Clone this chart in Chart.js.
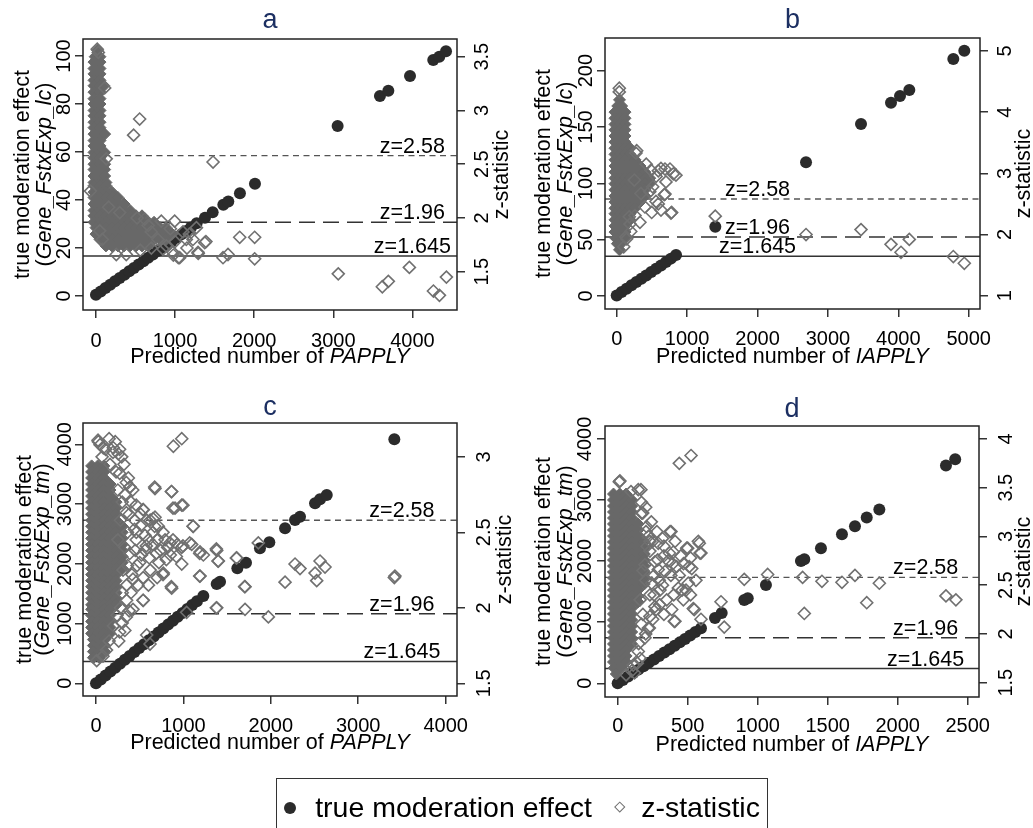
<!DOCTYPE html>
<html>
<head>
<meta charset="utf-8">
<script src="https://cdn.jsdelivr.net/npm/chart.js@4.4.1/dist/chart.umd.min.js"></script>
<style>
body{margin:0;background:#fff;width:1033px;height:828px;position:relative;overflow:hidden;font-family:"Liberation Sans",Arial,sans-serif}
canvas{position:absolute}
#legend{position:absolute;left:276px;top:778px;width:492px;height:80px;border:1.5px solid #333;box-sizing:border-box}
#legend .dot{position:absolute;left:7px;top:22.5px;width:12px;height:12px;border-radius:50%;background:#2b2b2b}
#legend .dia{position:absolute;left:339px;top:24px;width:7.5px;height:7.5px;border:1.5px solid #707070;box-sizing:border-box;transform:rotate(45deg)}
#legend .txt{position:absolute;top:14.4px;font-size:28.5px;line-height:28.5px;color:#000;white-space:nowrap}
</style>
</head>
<body>
<canvas id="pa" width="516" height="380" style="left:0;top:0"></canvas>
<canvas id="pb" width="517" height="380" style="left:516px;top:0"></canvas>
<canvas id="pc" width="516" height="400" style="left:0;top:380px"></canvas>
<canvas id="pd" width="517" height="400" style="left:516px;top:380px"></canvas>
<div id="legend">
  <div class="dot"></div><div class="txt" style="left:38.2px">true moderation effect</div>
  <div class="dia"></div><div class="txt" style="left:364.2px">z-statistic</div>
</div>
<script>
// reference lines for the z-statistic
const refZ = [2.58, 1.96, 1.645];
const refLabels = ['z=2.58', 'z=1.96', 'z=1.645'];

// ticks
const xTicksA = [0, 1000, 2000, 3000, 4000], yTicksA = [0, 20, 40, 60, 80, 100], zTicksA = [1.5, 2, 2.5, 3, 3.5];
const xTicksB = [0, 1000, 2000, 3000, 4000, 5000], yTicksB = [0, 50, 100, 150, 200], zTicksB = [1, 2, 3, 4, 5];
const xTicksC = [0, 1000, 2000, 3000, 4000], yTicksC = [0, 1000, 2000, 3000, 4000], zTicksC = [1.5, 2, 2.5, 3];
const xTicksD = [0, 500, 1000, 1500, 2000, 2500], yTicksD = [0, 1000, 2000, 3000, 4000], zTicksD = [1.5, 2, 2.5, 3, 3.5, 4];

// panel a : true moderation effect [x, effect]
const effA = [[0,0.5],[60,1.9],[120,3.3],[180,4.7],[240,6.1],[300,7.5],[360,8.9],[420,10.3],[480,11.7],[540,13.1],[600,14.5],[660,15.9],[720,17.3],[780,18.7],[840,20.1],[900,21.5],[960,22.9],[1020,24.3],[1080,25.7],[1140,27.1],[1200,28.5],[1273,30.3],[1378,32.6],[1475,34.9],[1610,38.0],[1673,39.4],[1820,42.8],[2010,46.8],[3055,70.8],[3590,83.3],[3696,85.5],[3970,91.7],[4264,98.3],[4340,99.7],[4425,102.0]];
// panel a : z-statistic, dense rows [z, x...] and single points [x, z]
const coreA = [[3.56,20],[3.50,-10,50],[3.45,-25,51],[3.39,-25,51],[3.34,-25,51],[3.28,-25,51],[3.23,-25,51,100],[3.17,-25,51],[3.11,-25,51],[3.06,-25,51],[3.00,-25,51],[2.95,-25,51],[2.89,-25,51],[2.84,-25,51],[2.78,-25,51,110],[2.72,-25,51],[2.67,-25,51],[2.61,-25,51,110],[2.56,-25,51],[2.50,-25,51,110],[2.45,-25,51,110],[2.39,-25,51,110],[2.33,-25,51,126],[2.30,-25,51,126],[2.24,-25,51,126,202],[2.19,-25,51,126,202,278],[2.13,-25,51,126,202,278,354],[2.07,-25,51,126,202,278,354,430],[2.02,-25,51,126,202,278,354,430,506,582],[1.96,-25,51,126,202,278,354,430,506,582,658,734],[1.91,0,51,126,202,278,354,430,506,582,658,734,810,886],[1.85,0,51,126,202,278,354,430,506,582,658,734,810,886,962],[1.80,51,126,202,278,354,430,506,582,658,734,810,886],[1.74,126,202,278,354,430,506,582,658]];
const zA = [[16,3.57],[30,3.54],[110,3.21],[552,2.92],[476,2.77],[1480,2.52],[47,1.88],[80,1.80],[257,1.66],[383,1.66],[616,1.99],[826,1.97],[995,1.97],[973,1.68],[1058,1.63],[1270,1.91],[1375,1.77],[1290,1.68],[1606,1.63],[1669,1.66],[1817,1.82],[2006,1.82],[2006,1.62],[1100,1.87],[1142,1.80],[784,1.80],[889,1.74],[700,1.87],[1226,1.80],[847,1.71],[1041,1.63],[978,1.655],[1390,1.78],[1293,1.67],[130,2.55],[-70,2.25],[160,2.10],[300,2.05],[520,2.00],[660,1.93],[940,1.90],[1180,1.85],[1000,1.78],[1150,1.72],[700,1.72],[560,1.70],[3063,1.48],[3620,1.36],[3696,1.41],[3962,1.54],[4266,1.32],[4342,1.28],[4430,1.45]];

// panel b
const effB = [[0,0.5],[70,3.5],[140,6.5],[210,9.5],[280,12.4],[350,15.4],[420,18.3],[490,21.3],[560,24.3],[630,27.2],[700,30.2],[770,33.2],[843,36.4],[1401,61.5],[2689,118.7],[3470,152.7],[3896,171.6],[4024,177.5],[4156,182.8],[4781,210.3],[4937,217.7]];
const coreB = [[4.20,40],[4.10,15,70],[4.00,-24,47,118],[3.90,-24,47,118],[3.80,-24,47,118],[3.71,-24,47,118],[3.61,-24,47,118],[3.51,-24,47,118],[3.41,-24,47,118,190],[3.31,-24,47,118,190],[3.22,-24,47,118,190,260],[3.12,-24,47,118,190,260,330],[3.02,-24,47,118,190,260,330,400],[2.92,-24,47,118,190,260,330,400,470],[2.83,-24,47,118,190,260,330,400,470],[2.73,-24,47,118,190,260,330,400],[2.63,-24,47,118,190,260,330,400],[2.53,-24,47,118,190,260,330],[2.43,-24,47,118,190,260],[2.34,-24,47,118,190],[2.24,-24,47,118,190],[2.14,-24,47,118],[2.04,-24,47,118],[1.94,-10,60,120],[1.85,10,60],[1.75,40]];
const zB = [[37,4.39],[37,4.33],[487,3.05],[629,3.08],[757,3.07],[842,2.97],[700,2.86],[676,2.65],[511,2.78],[558,2.54],[629,2.40],[771,2.35],[274,3.33],[250,2.89],[345,2.67],[179,2.29],[132,1.96],[804,2.99],[686,3.07],[591,3.04],[686,2.66],[781,2.36],[591,2.50],[497,2.36],[260,2.31],[142,1.93],[189,2.17],[284,3.37],[420,3.15],[560,2.95],[470,2.70],[400,2.45],[330,2.20],[200,2.05],[100,1.80],[1400,2.30],[2689,2.00],[3470,2.08],[3896,1.84],[4038,1.71],[4156,1.92],[4781,1.64],[4937,1.53]];

// panel c
const effC = [[0,0],[55,65],[110,131],[165,196],[220,262],[275,327],[330,393],[385,458],[440,524],[495,589],[550,655],[605,720],[660,785],[715,851],[770,916],[825,982],[880,1047],[935,1113],[990,1178],[1045,1244],[1100,1309],[1155,1375],[1228,1461],[1381,1662],[1419,1700],[1617,1925],[1716,2018],[1876,2259],[1983,2360],[2163,2594],[2277,2733],[2334,2788],[2506,3012],[2563,3079],[2640,3151],[3413,4083]];
const coreC = [[2.94,-50,20,90],[2.90,-50,20,90],[2.86,-50,20,90],[2.82,-50,20,90,160],[2.78,-50,20,90,160],[2.74,-50,20,90,160],[2.70,-50,20,90,160,230],[2.66,-50,20,90,160,230],[2.62,-50,20,90,160,230],[2.58,-50,20,90,160,230],[2.54,-50,20,90,160,230,300],[2.50,-50,20,90,160,230,300],[2.46,-50,20,90,160,230,300],[2.42,-50,20,90,160,230,300],[2.38,-50,20,90,160,230,300],[2.34,-50,20,90,160,230,300],[2.30,-50,20,90,160,230,300],[2.26,-50,20,90,160,230,300],[2.22,-50,20,90,160,230],[2.18,-50,20,90,160,230],[2.14,-50,20,90,160,230],[2.10,-50,20,90,160,230],[2.06,-50,20,90,160,230],[2.02,-50,20,90,160,230],[1.99,-50,20,90,160],[1.95,-50,20,90,160],[1.91,-50,20,90,160],[1.87,-50,20,90,160],[1.83,-50,20,90,160],[1.79,-30,40,100],[1.75,-30,40,100],[1.71,-30,40,100],[1.67,-30,40]];
const zC = [[27,3.10],[46,3.08],[84,3.06],[198,3.06],[255,3.02],[294,3.00],[885,3.07],[981,3.12],[675,2.79],[866,2.77],[904,2.66],[981,2.68],[1113,2.54],[370,2.86],[389,2.80],[541,2.65],[675,2.60],[713,2.54],[847,2.43],[981,2.40],[1095,2.42],[1190,2.37],[1228,2.35],[1381,2.38],[1400,2.31],[981,2.29],[770,2.23],[1190,2.21],[866,2.13],[541,2.05],[1381,2.00],[1610,2.33],[1705,2.14],[1705,1.99],[1857,2.43],[1972,1.94],[2163,2.17],[2277,2.29],[2334,2.26],[2506,2.23],[2525,2.18],[2563,2.31],[2620,2.27],[3413,2.20],[3420,2.21],[1037,1.97],[580,1.82],[618,1.76],[8,1.65],[671,2.80],[862,2.77],[881,2.66],[995,2.68],[538,2.65],[652,2.59],[671,2.54],[767,2.50],[881,2.45],[995,2.41],[1110,2.54],[443,2.58],[461,2.50],[576,2.41],[690,2.36],[805,2.32],[919,2.34],[1072,2.43],[1186,2.36],[767,2.22],[862,2.14],[538,2.05],[347,1.94],[271,1.84],[423,1.99],[423,2.19],[309,2.25],[500,2.30],[386,2.36],[347,2.63],[347,2.83],[271,2.89],[386,2.80],[195,3.03],[23,3.11],[1377,2.39],[1396,2.31],[1186,2.21],[1377,2.00],[1701,2.14],[1606,2.33],[400,2.70],[460,2.45],[520,2.35],[600,2.45],[620,2.25],[700,2.45],[480,2.15],[400,2.10],[350,2.05],[280,2.00],[330,2.40],[360,2.50],[450,2.38],[560,2.48],[620,2.58],[520,2.55],[300,2.70],[250,2.78],[230,2.90],[160,2.95],[240,1.95],[200,1.88],[150,1.78],[120,1.72],[80,1.68],[300,1.90],[360,2.28],[700,2.20],[820,2.40],[740,2.38],[330,2.75],[420,2.78],[460,2.68],[380,2.62],[440,2.52],[510,2.62],[580,2.58],[560,2.38],[610,2.33],[650,2.42],[720,2.30],[790,2.45],[850,2.35],[930,2.42],[650,2.50],[600,2.15],[540,2.20],[470,2.28],[410,2.22],[350,2.15],[300,2.10],[380,1.98],[330,1.85],[260,1.78],[250,2.45],[280,2.58],[320,2.95],[270,3.05],[220,3.10],[150,3.12],[110,3.05],[70,3.00]];

// panel d
const effD = [[0,0],[37,56],[74,112],[111,168],[148,224],[185,280],[222,335],[259,391],[296,447],[333,503],[370,559],[407,615],[444,670],[481,726],[518,782],[555,838],[595,900],[695,1069],[743,1150],[904,1363],[929,1391],[1059,1609],[1309,2002],[1333,2029],[1452,2209],[1602,2438],[1695,2569],[1779,2712],[1869,2843],[2345,3563],[2411,3666]];
const coreD = [[3.435,-30,15,60],[3.374,-30,15,60,100],[3.312,-30,15,60,100],[3.251,-30,15,60,100],[3.189,-30,15,60,100],[3.128,-30,15,60,100,145],[3.066,-30,15,60,100,145],[3.005,-30,15,60,100,145],[2.943,-30,15,60,100,145,190],[2.882,-30,15,60,100,145,190],[2.820,-30,15,60,100,145,190],[2.758,-30,15,60,100,145,190],[2.697,-30,15,60,100,145,190],[2.635,-30,15,60,100,145,190],[2.574,-30,15,60,100,145,190],[2.512,-30,15,60,100,145,190],[2.451,-30,15,60,100,145],[2.389,-30,15,60,100,145],[2.328,-30,15,60,100,145],[2.266,-30,15,60,100],[2.205,-30,15,60,100],[2.143,-30,15,60,100],[2.082,-30,15,60,100],[2.020,-30,15,60,100],[1.958,-30,15,60,100],[1.897,-30,15,60,100],[1.835,-30,15,60],[1.774,-30,15,60],[1.712,-30,15,60],[1.651,-25,25],[1.589,-10]];
const zD = [[11,3.56],[16,3.57],[440,3.75],[524,3.83],[95,3.46],[166,3.48],[147,3.48],[179,3.24],[171,3.24],[202,3.05],[207,3.10],[250,2.95],[381,3.05],[374,3.05],[369,2.83],[393,2.72],[286,2.76],[297,2.55],[274,2.25],[226,2.06],[500,2.88],[511,2.69],[583,2.93],[595,2.83],[559,2.55],[488,2.45],[547,2.25],[595,2.15],[404,2.13],[738,2.33],[761,2.07],[290,2.93],[397,2.84],[493,2.88],[588,2.83],[576,2.95],[266,2.74],[338,2.64],[421,2.69],[529,2.67],[504,2.52],[433,2.47],[302,2.45],[350,2.35],[469,2.35],[540,2.26],[409,2.13],[386,2.25],[266,2.28],[219,2.06],[195,1.96],[147,1.82],[111,1.68],[243,2.52],[195,2.71],[219,3.00],[230,2.85],[330,2.90],[260,2.60],[320,2.50],[230,2.40],[300,2.30],[250,2.15],[180,2.20],[150,1.90],[120,1.60],[60,1.58],[200,2.55],[440,2.60],[360,2.75],[170,3.35],[200,3.30],[240,3.15],[280,3.05],[230,2.95],[320,2.98],[410,2.95],[450,2.80],[520,2.78],[470,2.72],[330,2.80],[290,2.66],[380,2.60],[460,2.45],[520,2.40],[400,2.40],[330,2.20],[260,2.40],[230,2.18],[200,2.00],[170,2.10],[160,2.35],[180,2.65],[210,2.90],[160,1.75],[140,1.70],[100,1.62],[904,2.56],[1071,2.61],[1321,2.58],[1333,2.21],[1459,2.54],[1602,2.53],[1695,2.60],[1779,2.32],[1869,2.52],[2345,2.39],[2416,2.35]];

const FONT = '"Liberation Sans", Arial, sans-serif';
const tickFont = { family: FONT, size: 20 };
const mctx = document.createElement('canvas').getContext('2d');
mctx.font = '20px ' + FONT;
const widest = vals => Math.max(...vals.map(v => mctx.measureText(String(v)).width));

function richText(ctx, segs, x, y, rot) {
  const fonts = segs.map(s => (s[1] ? 'italic ' : '') + '21.5px ' + FONT);
  let w = 0;
  const ws = segs.map((s, i) => { ctx.font = fonts[i]; const m = ctx.measureText(s[0]).width; w += m; return m; });
  ctx.save();
  ctx.translate(x, y);
  ctx.rotate(rot);
  ctx.textAlign = 'left';
  ctx.textBaseline = 'middle';
  ctx.fillStyle = '#000';
  let cx = -w / 2;
  segs.forEach((s, i) => { ctx.font = fonts[i]; ctx.fillText(s[0], cx, 0); cx += ws[i]; });
  ctx.restore();
}

const panelText = {
  id: 'panelText',
  afterDraw(chart, args, o) {
    const { ctx, chartArea: a, scales } = chart;
    const midY = (a.top + a.bottom) / 2, midX = (a.left + a.right) / 2;
    ctx.save();
    ctx.strokeStyle = '#222';
    ctx.lineWidth = 1.5;
    ctx.strokeRect(a.left, a.top, a.right - a.left, a.bottom - a.top);
    ctx.fillStyle = '#1c2f62';
    ctx.font = '27px ' + FONT;
    ctx.textAlign = 'center';
    ctx.textBaseline = 'alphabetic';
    ctx.fillText(o.letter, midX, o.letterY);
    ctx.fillStyle = '#000';
    ctx.font = '21.5px ' + FONT;
    refZ.forEach((z, i) => ctx.fillText(refLabels[i], scales.x.getPixelForValue(o.labelX), scales.z.getPixelForValue(z) - 3));
    ctx.restore();
    richText(ctx, [['Predicted number of ', false], [o.xVar, true]], midX, o.xTitleY, 0);
    richText(ctx, [['true moderation effect', false]], o.yTitleX[0], midY, -Math.PI / 2);
    richText(ctx, [['(', false], ['Gene_FstxExp_' + o.suffix, true], [')', false]], o.yTitleX[1], midY, -Math.PI / 2);
    richText(ctx, [['z-statistic', false]], o.zTitleX, midY, -Math.PI / 2);
  }
};

const gridOpts = { display: true, drawOnChartArea: false, drawTicks: true, tickLength: 8, color: '#333', lineWidth: 1.5 };

function axis(pos, range, ticks, size, gap) {
  const vertical = pos !== 'bottom';
  const pad = vertical ? gap - 8 - widest(ticks) / 2 : gap;
  return {
    type: 'linear', position: pos, min: range[0], max: range[1],
    afterBuildTicks: s => { s.ticks = ticks.map(v => ({ value: v })); },
    afterFit: s => { if (vertical) s.width = size; else s.height = size; },
    grid: gridOpts,
    border: { display: false },
    ticks: {
      autoSkip: false, color: '#000', font: tickFont, padding: pad,
      minRotation: vertical ? 90 : 0, maxRotation: vertical ? 90 : 0,
      crossAlign: vertical ? 'center' : 'near',
      callback: v => String(v)
    }
  };
}

function panel(id, p) {
  const cv = document.getElementById(id);
  const core = p.core.flatMap(r => r.slice(1).map(x => ({ x, y: r[0] })));
  const refDash = [[6, 4.5], [16, 8], []];
  const refColor = ['#555', '#333', '#333'];
  const refWidth = [1.3, 1.5, 1.5];
  new Chart(cv, {
    type: 'scatter',
    data: {
      datasets: [
        { label: 'z-statistic', data: p.z.map(([x, y]) => ({ x, y })), yAxisID: 'z', pointStyle: 'rectRot', pointRadius: 6, borderWidth: 1.6, borderColor: '#707070', backgroundColor: 'rgba(0,0,0,0)', order: 0 },
        { label: 'z-statistic', data: core, yAxisID: 'z', pointStyle: 'rectRot', pointRadius: 6, borderWidth: 1, borderColor: '#686868', backgroundColor: '#686868', order: 1 },
        { label: 'true moderation effect', data: p.eff.map(([x, y]) => ({ x, y })), yAxisID: 'y', pointStyle: 'circle', pointRadius: 6, borderWidth: 0, backgroundColor: '#2b2b2b', order: 2 },
        ...refZ.map((z, i) => ({
          label: refLabels[i], data: [{ x: p.xr[0], y: z }, { x: p.xr[1], y: z }], yAxisID: 'z',
          showLine: true, pointRadius: 0, borderColor: refColor[i], borderDash: refDash[i], borderWidth: refWidth[i], order: 3
        }))
      ]
    },
    options: {
      responsive: false, animation: false, events: [],
      layout: { padding: { top: p.top, left: 0, right: 0, bottom: 0 } },
      plugins: {
        legend: { display: false }, tooltip: { enabled: false },
        panelText: { letter: p.letter, letterY: p.letterY, labelX: p.labelX, xVar: p.xVar, suffix: p.suffix, xTitleY: p.xTitleY, yTitleX: p.yTitleX, zTitleX: p.zTitleX }
      },
      scales: {
        x: axis('bottom', p.xr, p.xt, cv.height - p.bottom, p.padX),
        y: axis('left', p.yr, p.yt, p.left, p.gapL),
        z: axis('right', p.zr, p.zt, cv.width - p.right, p.gapR)
      }
    },
    plugins: [panelText]
  });
}

panel('pa', { letter: 'a', xVar: 'PAPPLY', suffix: 'lc', eff: effA, core: coreA, z: zA,
  xr: [-164, 4564], yr: [-5.83, 107.08], zr: [1.1437, 3.6647], xt: xTicksA, yt: yTicksA, zt: zTicksA,
  left: 83, right: 457, top: 39, bottom: 310, letterY: 28, xTitleY: 357, yTitleX: [23, 45], zTitleX: 502, labelX: 4000, gapL: 19, gapR: 25.5, padX: 11 });
panel('pb', { letter: 'b', xVar: 'IAPPLY', suffix: 'lc', eff: effB, core: coreB, z: zB,
  xr: [-166, 5160], yr: [-11.5, 229.0], zr: [0.783, 5.211], xt: xTicksB, yt: yTicksB, zt: zTicksB,
  left: 89, right: 464, top: 38, bottom: 309, letterY: 28, xTitleY: 357, yTitleX: [28, 50], zTitleX: 508, labelX: 2000, gapL: 19, gapR: 25.7, padX: 10 });
panel('pc', { letter: 'c', xVar: 'PAPPLY', suffix: 'tm', eff: effC, core: coreC, z: zC,
  xr: [-148.7, 4130], yr: [-212.6, 4356.5], zr: [1.416, 3.224], xt: xTicksC, yt: yTicksC, zt: zTicksC,
  left: 83, right: 457, top: 43, bottom: 316, letterY: 35, xTitleY: 363, yTitleX: [25, 43.5], zTitleX: 505, labelX: 3500, gapL: 18, gapR: 27, padX: 10 });
panel('pd', { letter: 'd', xVar: 'IAPPLY', suffix: 'tm', eff: effD, core: coreD, z: zD,
  xr: [-90.7, 2581], yr: [-224, 4211], zr: [1.353, 4.133], xt: xTicksD, yt: yTicksD, zt: zTicksD,
  left: 89, right: 463, top: 46, bottom: 317, letterY: 36.5, xTitleY: 365, yTitleX: [28, 50], zTitleX: 508, labelX: 2200, gapL: 20, gapR: 27, padX: 9 });
</script>
</body>
</html>
